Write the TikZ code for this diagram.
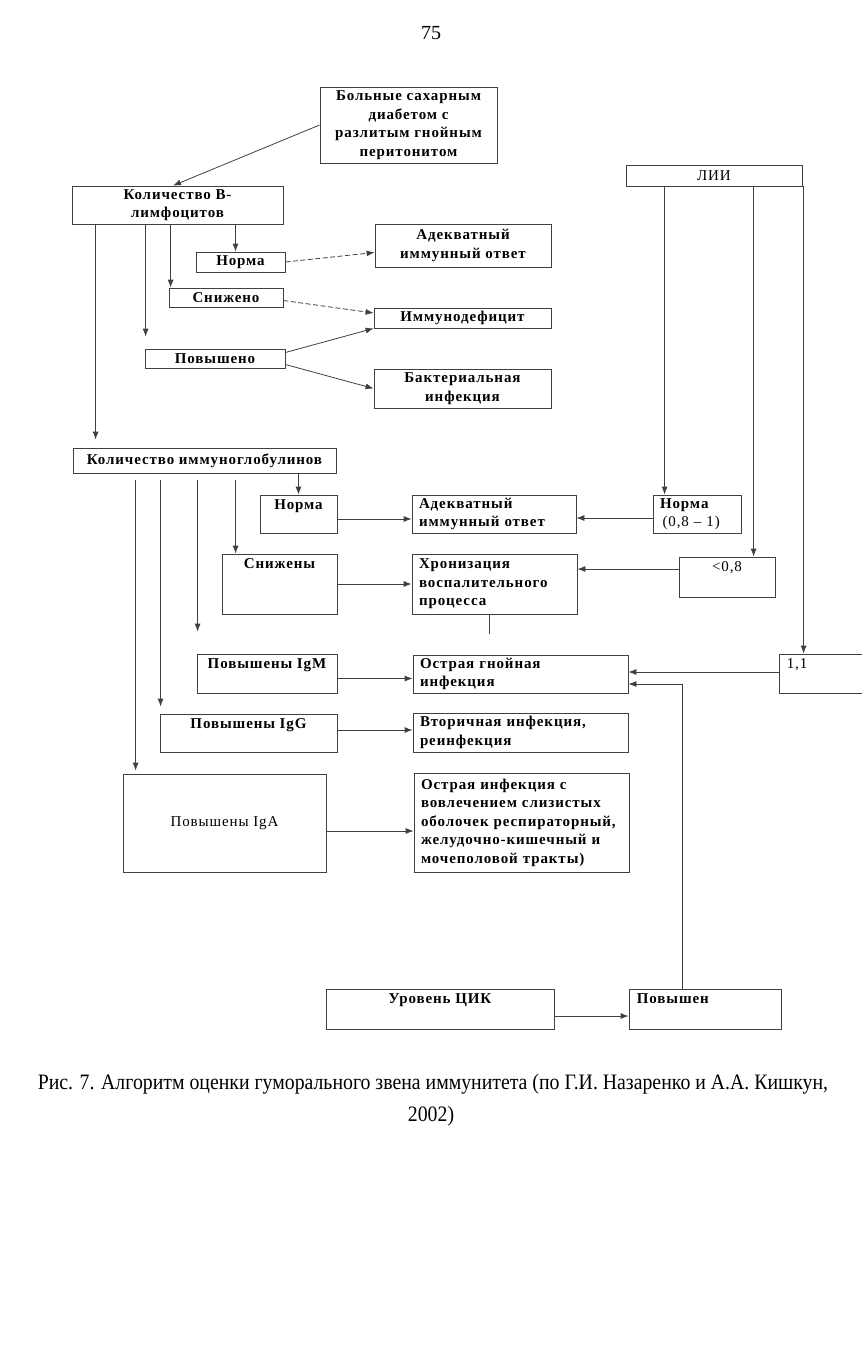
\documentclass[tikz,border=0pt]{standalone}
\usepackage{fontspec}
\setmainfont{Liberation Serif}
\newfontfamily\boxfamily[LetterSpace=6]{Liberation Serif}
\newfontfamily\capfamily[FakeStretch=0.9]{Liberation Serif}
\usepackage{tikz}
\usetikzlibrary{ positioning, % For easy node-relative placements
                 arrows.meta, % For the arrow tips
               }
\newcommand\diagfont{\boxfamily\bfseries\fontsize{15}{18.5}\selectfont}

\tikzset{
  box/.style={draw=black!75, line width=0.8pt, inner sep=2pt, align=center, font=\diagfont},
  lbox/.style={box, align=left, inner xsep=7pt, text width=#1},
  wh/.style 2 args={minimum width=#1, minimum height=#2},
  toptext/.style={anchor=north, yshift=-5pt, inner sep=0pt, font=\diagfont},
  topleft/.style={anchor=north west, xshift=8pt, yshift=-5pt, inner sep=0pt, font=\diagfont},
  arr/.style={draw=black!75, line width=0.8pt, -{Latex[length=8pt,width=6pt]}},
  dash5/.style={dash pattern=on 5pt off 2.5pt},
}

\begin{document}
\begin{tikzpicture}[x=1pt, y=-1pt]
    \useasboundingbox (0,0) rectangle (862,1350);
    \node[font=\fontsize{20}{24}\selectfont] (pagenum) at (431,33) {75};

    % B-lymphocytes
    \node[box, wh={177}{76}] (patients) at (408.5,125) {Больные сахарным\\диабетом с\\разлитым гнойным\\перитонитом};
    \node[box, wh={211}{38}] (bcells) at (177.5,205) {Количество В-\\лимфоцитов};
    \node[box, wh={89}{20}] (bnorm) at (240.5,262) {Норма};
    \node[box, wh={176}{43}] (adequate1) at (463,245.5) {Адекватный\\иммунный ответ};
    \node[box, wh={114}{19}] (blow) at (226,297.5) {Снижено};
    \node[box, wh={177}{20}] (immdef) at (462.5,318) {Иммунодефицит};
    \node[box, wh={140}{19}] (bhigh) at (215,358.5) {Повышено};
    \node[box, wh={177}{39}] (bacterial) at (462.5,388.5) {Бактериальная\\инфекция};

    \draw[arr] (patients.west) -- ([xshift=-4.5pt]bcells.north);
    \draw[arr] ([xshift=-5pt]bnorm.north |- bcells.south) -- ([xshift=-5pt]bnorm.north);
    \draw[arr] ([xshift=2pt]blow.north west |- bcells.south) -- ([xshift=2pt]blow.north west);
    \draw[arr] ([xshift=1pt]bhigh.north west |- bcells.south) -- ([xshift=1pt,yshift=12pt]bhigh.north west);
    \draw[arr, dash5] (bnorm.east) -- ([yshift=-7pt]adequate1.west);
    \draw[arr, dash5] ([yshift=-3pt]blow.east) -- ([yshift=5pt]immdef.west);
    \draw[arr] ([yshift=6pt]bhigh.east) -- (immdef.south west);
    \draw[arr] ([yshift=-6pt]bhigh.east) -- (bacterial.west);

    % Immunoglobulins
    \node[box, wh={263}{25}] (igs) at (204.5,460.5) {Количество иммуноглобулинов};
    \draw[arr] ([xshift=23pt]igs.north west |- bcells.south) -- ([xshift=23pt,yshift=8pt]igs.north west);
    \node[box, wh={77}{38}, label={[toptext]north:Норма}] (ignorm) at (298.5,514) {};
    \node[lbox=150pt, wh={164}{38}] (adequate2) at (494,514) {Адекватный\\иммунный ответ};
    \node[box, wh={115}{60}, label={[toptext]north:Снижены}] (iglow) at (279.5,584) {};
    \node[lbox=151pt, wh={165}{60}] (chronic) at (494.5,584) {Хронизация\\воспалительного\\процесса};
    \node[box, wh={140}{39}, label={[toptext]north:Повышены IgM}] (igm) at (267,673.5) {};
    \node[lbox=201pt, wh={215}{38}] (acute) at (520.5,674) {Острая гнойная\\инфекция};
    \node[box, wh={177}{38}, label={[toptext]north:Повышены IgG}] (igg) at (248.5,733) {};
    \node[lbox=201pt, wh={215}{39}] (secondary) at (520.5,732.5) {Вторичная инфекция,\\реинфекция};
    \node[box, wh={203}{98}] (iga) at (224.5,823) {\mdseries Повышены IgA};
    \node[lbox=201pt, wh={215}{99}] (mucosal) at (521.5,822.5) {Острая инфекция с\\вовлечением слизистых\\оболочек респираторный,\\желудочно-кишечный и\\мочеполовой тракты)};

    \draw[arr] (ignorm.north |- igs.south) -- (ignorm.north);
    \draw[arr] ([xshift=14pt,yshift=-7pt]iglow.north west |- igs.south) -- ([xshift=14pt]iglow.north west);
    \draw[arr] ([xshift=1pt,yshift=-7pt]igm.north west |- igs.south) -- ([xshift=1pt,yshift=22pt]igm.north west);
    \draw[arr] ([xshift=1pt,yshift=-7pt]igg.north west |- igs.south) -- ([xshift=1pt,yshift=7pt]igg.north west);
    \draw[arr] ([xshift=13pt,yshift=-7pt]iga.north west |- igs.south) -- ([xshift=13pt,yshift=3pt]iga.north west);
    \draw[arr] ([yshift=-5pt]ignorm.east) -- ([yshift=-5pt]adequate2.west);
    \draw[arr] (iglow.east) -- (chronic.west);
    \draw[draw=black!75, line width=0.8pt] ([xshift=-5pt]chronic.south) -- ++(0,20);
    \draw[arr] ([yshift=-5pt]igm.east) -- ([yshift=-5pt]igm.east -| acute.west);
    \draw[arr] ([yshift=3pt]igg.east) -- ([yshift=3pt]igg.east -| secondary.west);
    \draw[arr] ([yshift=-8pt]iga.east) -- ([yshift=-8pt]iga.east -| mucosal.west);

    % LII
    \node[box, wh={176}{21}] (lii) at (714,175.5) {\mdseries ЛИИ};
    \node[lbox=74pt, wh={88}{38}] (liinorm) at (697,514) {Норма\\ {\mdseries\,(0,8 – 1)}};
    \node[box, wh={96}{40}, label={[toptext]north:{\mdseries <0,8}}] (liilow) at (727,577) {};
    \node[box, wh={96}{39}, label={[topleft]north west:{\mdseries 1,1}}] (liihigh) at (827,673.5) {};

    \draw[arr] ([xshift=12pt]liinorm.north west |- lii.south) -- ([xshift=12pt]liinorm.north west);
    \draw[arr] ([xshift=75pt]liilow.north west |- lii.south) -- ([xshift=75pt]liilow.north west);
    \draw[arr] ([xshift=25pt]liihigh.north west |- lii.south) -- ([xshift=25pt]liihigh.north west);
    \draw[arr] ([yshift=-4pt]liinorm.west) -- ([yshift=-4pt]liinorm.west -| adequate2.east);
    \draw[arr] ([yshift=8pt]liilow.west) -- ([yshift=8pt]liilow.west -| chronic.east);
    \draw[arr] ([yshift=1.5pt]liihigh.west) -- ([yshift=1.5pt]liihigh.west -| acute.east);

    % CIC
    \node[box, wh={228}{40}, label={[toptext]north:Уровень ЦИК}] (cic) at (440,1009) {};
    \node[box, wh={152}{40}, label={[topleft]north west:Повышен}] (cichigh) at (705,1009) {};
    \draw[arr] ([yshift=-7pt]cic.east) -- ([yshift=-7pt]cic.east -| cichigh.west);
    \draw[arr] ([xshift=-23pt]cichigh.north) |- ([yshift=-10pt]acute.east);

    \node[font=\capfamily\fontsize{22}{26}\selectfont] (caption) at (433,1084)
        {Рис. 7. Алгоритм оценки гуморального звена иммунитета (по Г.И. Назаренко и А.А. Кишкун,};
    \node[font=\capfamily\fontsize{22}{26}\selectfont] (year) at (431,1116) {2002)};
\end{tikzpicture}
\end{document}
